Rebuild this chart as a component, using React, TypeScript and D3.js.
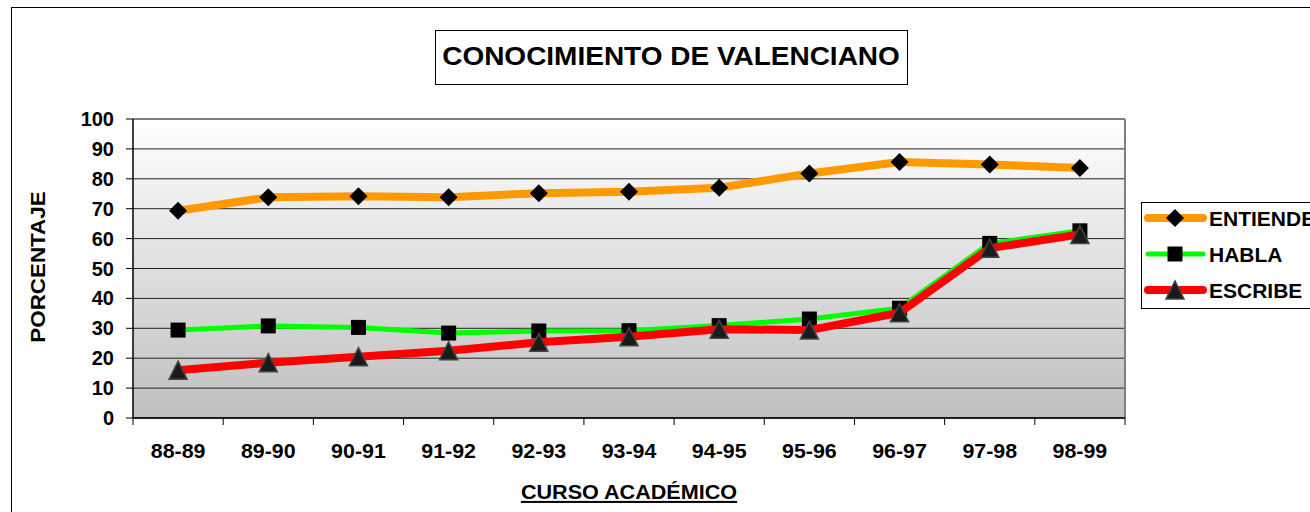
import React from "react";
import * as d3 from "d3";

const categories = ["88-89", "89-90", "90-91", "91-92", "92-93", "93-94", "94-95", "95-96", "96-97", "97-98", "98-99"];
const entiende = [69.3, 73.8, 74.2, 73.8, 75.2, 75.7, 77.0, 81.8, 85.6, 84.8, 83.6];
const habla = [29.4, 30.8, 30.3, 28.4, 29.1, 29.2, 30.9, 33.1, 36.7, 58.4, 62.6];
const escribe = [16.0, 18.5, 20.5, 22.5, 25.3, 27.2, 29.7, 29.4, 35.2, 56.8, 61.4];
const yTicks = [0, 10, 20, 30, 40, 50, 60, 70, 80, 90, 100];
const seriesNames = ["ENTIENDE", "HABLA", "ESCRIBE"];

const FONT = "'Liberation Sans', Arial, sans-serif";

function SText({ x, y, sx = 1, anchor = "middle", size = 20, children, rotate = 0, underline = false }: any) {
  return (
    <g transform={`translate(${x},${y}) rotate(${rotate}) scale(${sx},1)`}>
      <text x={0} y={0} textAnchor={anchor} fontFamily={FONT} fontWeight="bold" fontSize={size} fill="#000"
        textDecoration={underline ? "underline" : undefined}>
        {children}
      </text>
    </g>
  );
}

function Marker({ type, x, y }: any) {
  if (type === "diamond") {
    const r = 9;
    return <path d={`M${x},${y - r}L${x + r},${y}L${x},${y + r}L${x - r},${y}Z`} fill="#000" />;
  }
  if (type === "square") {
    const s = 7.5;
    return <rect x={x - s} y={y - s} width={2 * s} height={2 * s} fill="#000" />;
  }
  const h = 9;
  return <path d={`M${x},${y - h}L${x + h},${y + h}L${x - h},${y + h}Z`} fill="#1a1a1a" stroke="#444" strokeWidth={1.5} strokeLinejoin="miter" />;
}

export default function App() {
  const x0 = 133, x1 = 1125, yTop = 119, yBot = 418;
  const xBand = d3.scaleBand<string>().domain(categories).range([x0, x1]).padding(0);
  const xc = (c: string) => (xBand(c) as number) + xBand.bandwidth() / 2;
  const y = d3.scaleLinear().domain([0, 100]).range([yBot, yTop]);

  const series = [
    { name: seriesNames[0], values: entiende, color: "#FF9900", width: 8, marker: "diamond" },
    { name: seriesNames[1], values: habla, color: "#00FF00", width: 5, marker: "square" },
    { name: seriesNames[2], values: escribe, color: "#FF0000", width: 8, marker: "triangle" },
  ];

  const line = d3.line<number>().x((_, i) => xc(categories[i])).y((v) => y(v));
  const boundaries = categories.map((c) => xBand(c) as number).concat([x1]);

  const legendY = [218, 254, 290];

  return (
    <svg width={1310} height={512} style={{ position: "absolute", left: 0, top: 0, background: "#fff" }}>
      <defs>
        <linearGradient id="bg" x1="0" y1="0" x2="0" y2="1">
          <stop offset="0" stopColor="#ffffff" />
          <stop offset="1" stopColor="#bfbfbf" />
        </linearGradient>
      </defs>
      <rect x={0} y={0} width={1310} height={512} fill="#fff" />
      <rect x={11.5} y={7.5} width={1320} height={520} fill="none" stroke="#000" strokeWidth={1} />

      {/* title */}
      <rect x={435.5} y={30.5} width={472} height={54} fill="#fff" stroke="#000" strokeWidth={1} />
      <SText x={671} y={64.5} size={25} sx={1.12}>CONOCIMIENTO DE VALENCIANO</SText>

      {/* plot area */}
      <rect x={x0} y={yTop} width={x1 - x0} height={yBot - yTop} fill="url(#bg)" />
      {yTicks.map((t) => (
        <line key={"g" + t} x1={x0} x2={x1} y1={y(t)} y2={y(t)} stroke="#222" strokeWidth={1} />
      ))}
      <line x1={x0} x2={x1} y1={yTop} y2={yTop} stroke="#808080" strokeWidth={2} />
      <line x1={x1} x2={x1} y1={yTop} y2={yBot} stroke="#808080" strokeWidth={2} />
      <line x1={x0} x2={x0} y1={yTop} y2={yBot} stroke="#000" strokeWidth={1.5} />
      <line x1={x0} x2={x1} y1={yBot} y2={yBot} stroke="#000" strokeWidth={1.5} />

      {yTicks.map((t) => (
        <g key={"yt" + t}>
          <line x1={x0 - 7} x2={x0} y1={y(t)} y2={y(t)} stroke="#000" strokeWidth={1} />
          <SText x={114} y={y(t) + 7} anchor="end" size={20} sx={1.0}>{t}</SText>
        </g>
      ))}
      {boundaries.map((b, i) => (
        <line key={"xt" + i} x1={b} x2={b} y1={yBot} y2={yBot + 7} stroke="#000" strokeWidth={1} />
      ))}
      {categories.map((c) => (
        <SText key={"xl" + c} x={xc(c)} y={458} size={20} sx={1.07}>{c}</SText>
      ))}

      <SText x={629} y={499} size={20} sx={1.08} underline>CURSO ACADÉMICO</SText>
      <SText x={45} y={267} size={20} sx={1.12} rotate={-90}>PORCENTAJE</SText>

      {/* series */}
      {series.map((s) => (
        <g key={s.name}>
          <path d={line(s.values) as string} fill="none" stroke={s.color} strokeWidth={s.width} strokeLinejoin="round" />
          {s.values.map((v, i) => (
            <Marker key={i} type={s.marker} x={xc(categories[i])} y={y(v)} />
          ))}
        </g>
      ))}

      {/* legend */}
      <rect x={1141.5} y={202.5} width={200} height={106} fill="#fff" stroke="#000" strokeWidth={1} />
      {series.map((s, i) => (
        <g key={"lg" + s.name}>
          <line x1={1148} x2={1203} y1={legendY[i]} y2={legendY[i]} stroke={s.color} strokeWidth={s.width} strokeLinecap="round" />
          <Marker type={s.marker} x={1175} y={legendY[i]} />
          <SText x={1209} y={legendY[i] + 7.5} anchor="start" size={20} sx={1.05}>{s.name}</SText>
        </g>
      ))}
    </svg>
  );
}
